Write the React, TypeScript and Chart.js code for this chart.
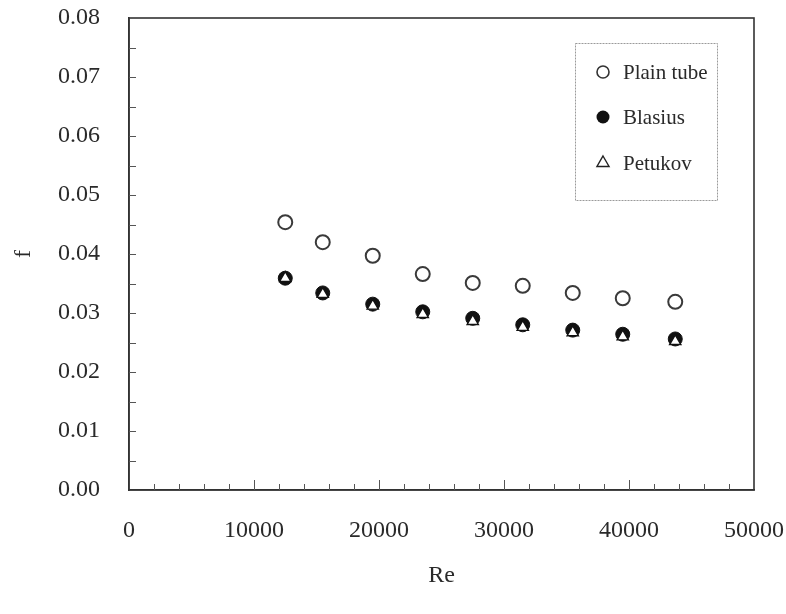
import React, { useEffect, useRef } from 'react';
import { Chart, registerables } from 'chart.js';

Chart.register(...registerables);

// Data
const reValues = [12500, 15500, 19500, 23500, 27500, 31500, 35500, 39500, 43700];
const plainTube = [0.0454, 0.0420, 0.0397, 0.0366, 0.0351, 0.0346, 0.0334, 0.0325, 0.0319];
const blasius = [0.0359, 0.0334, 0.0315, 0.0302, 0.0291, 0.0280, 0.0271, 0.0264, 0.0256];
const petukov = [0.0359, 0.0332, 0.0312, 0.0298, 0.0286, 0.0276, 0.0267, 0.0260, 0.0252];

const seriesNames = ['Plain tube', 'Blasius', 'Petukov'];
const xTickLabels = ['0', '10000', '20000', '30000', '40000', '50000'];
const yTickLabels = ['0.00', '0.01', '0.02', '0.03', '0.04', '0.05', '0.06', '0.07', '0.08'];
const xMinorStep = 2000;
const yMinorStep = 0.005;

const FONT = "'Liberation Serif', 'Times New Roman', serif";
const INK = '#2a2a2a';

const decorPlugin = {
  id: 'decor',
  afterDraw(chart: any) {
    const { ctx, chartArea: a, scales } = chart;
    const xs = scales.x;
    const ys = scales.y;
    ctx.save();
    ctx.strokeStyle = '#333';
    ctx.lineWidth = 1.6;
    ctx.strokeRect(a.left, a.top, a.right - a.left, a.bottom - a.top);

    // inner tick marks on y axis
    ctx.lineWidth = 1;
    ctx.strokeStyle = '#555';
    for (let v = yMinorStep; v < ys.max - 1e-9; v += yMinorStep) {
      const y = Math.round(ys.getPixelForValue(v)) + 0.5;
      ctx.beginPath();
      ctx.moveTo(a.left, y);
      ctx.lineTo(a.left + 7, y);
      ctx.stroke();
    }
    // inner tick marks on x axis
    for (let v = xMinorStep; v < xs.max - 1e-9; v += xMinorStep) {
      const x = Math.round(xs.getPixelForValue(v)) + 0.5;
      const major = Math.abs(v % 10000) < 1e-6;
      ctx.beginPath();
      ctx.moveTo(x, a.bottom);
      ctx.lineTo(x, a.bottom - (major ? 10 : 6));
      ctx.stroke();
    }

    // legend box
    const lx = 575, ly = 43, lw = 142, lh = 157;
    ctx.strokeStyle = '#9a9a9a';
    ctx.lineWidth = 1;
    ctx.setLineDash([2, 1]);
    ctx.strokeRect(lx + 0.5, ly + 0.5, lw, lh);
    ctx.setLineDash([]);
    const rows = [72, 117, 163];
    const sx = 603;
    ctx.font = `21px ${FONT}`;
    ctx.fillStyle = INK;
    ctx.textBaseline = 'middle';
    ctx.textAlign = 'left';
    rows.forEach((ry, i) => {
      ctx.beginPath();
      if (i === 0) {
        ctx.arc(sx, ry, 6, 0, Math.PI * 2);
        ctx.fillStyle = '#fff';
        ctx.fill();
        ctx.strokeStyle = '#333';
        ctx.lineWidth = 1.6;
        ctx.stroke();
      } else if (i === 1) {
        ctx.arc(sx, ry, 6.5, 0, Math.PI * 2);
        ctx.fillStyle = '#111';
        ctx.fill();
      } else {
        const r = 7;
        ctx.moveTo(sx, ry - r);
        ctx.lineTo(sx + r * 0.866, ry + r / 2);
        ctx.lineTo(sx - r * 0.866, ry + r / 2);
        ctx.closePath();
        ctx.strokeStyle = '#222';
        ctx.lineWidth = 1.4;
        ctx.stroke();
      }
      ctx.fillStyle = INK;
      ctx.fillText(seriesNames[i], 623, ry + 1);
    });
    ctx.restore();
  },
};

export default function App() {
  const ref = useRef<HTMLCanvasElement | null>(null);

  useEffect(() => {
    if (!ref.current) return;
    const toPts = (ys: number[]) => reValues.map((x, i) => ({ x, y: ys[i] }));
    const chart = new Chart(ref.current, {
      type: 'scatter',
      data: {
        datasets: [
          {
            label: seriesNames[0],
            data: toPts(plainTube),
            pointStyle: 'circle',
            pointRadius: 7,
            pointBackgroundColor: '#ffffff',
            pointBorderColor: '#3a3a3a',
            pointBorderWidth: 2,
            order: 2,
          },
          {
            label: seriesNames[1],
            data: toPts(blasius),
            pointStyle: 'circle',
            pointRadius: 7,
            pointBackgroundColor: '#111111',
            pointBorderColor: '#111111',
            pointBorderWidth: 1,
            order: 1,
          },
          {
            label: seriesNames[2],
            data: toPts(petukov),
            pointStyle: 'triangle',
            pointRadius: 6.5,
            pointBackgroundColor: '#ffffff',
            pointBorderColor: '#111111',
            pointBorderWidth: 1.4,
            order: 0,
          },
        ],
      },
      options: {
        responsive: false,
        animation: false,
        layout: { padding: { top: 18, right: 32, left: 0, bottom: 0 } },
        plugins: {
          legend: { display: false },
          tooltip: { enabled: false },
        },
        scales: {
          x: {
            type: 'linear',
            min: 0,
            max: 50000,
            grid: { display: false, drawTicks: false },
            border: { display: true, color: '#333', width: 1.6 },
            afterFit: (s: any) => {
              s.height = 124;
              s.paddingLeft = 0;
              s.paddingRight = 0;
            },
            afterBuildTicks: (s: any) => {
              s.ticks = xTickLabels.map((t) => ({ value: Number(t) }));
            },
            ticks: {
              padding: 26,
              color: INK,
              font: { family: FONT, size: 24 },
              callback: (_v: any, i: number) => xTickLabels[i],
              maxRotation: 0,
            },
            title: {
              display: true,
              text: 'Re',
              color: INK,
              font: { family: FONT, size: 24 },
              padding: { top: 0, bottom: 24 },
            },
          },
          y: {
            type: 'linear',
            min: 0,
            max: 0.08,
            grid: { display: false, drawTicks: false },
            border: { display: true, color: '#333', width: 1.6 },
            afterFit: (s: any) => {
              s.width = 129;
              s.paddingTop = 0;
              s.paddingBottom = 0;
            },
            afterBuildTicks: (s: any) => {
              s.ticks = yTickLabels.map((t) => ({ value: Number(t) }));
            },
            ticks: {
              padding: 29,
              color: INK,
              font: { family: FONT, size: 24 },
              callback: (_v: any, i: number) => yTickLabels[i],
            },
            title: {
              display: true,
              text: 'f',
              color: INK,
              font: { family: FONT, size: 24 },
              padding: { top: 9, bottom: 0 },
            },
          },
        },
      },
      plugins: [decorPlugin],
    });
    return () => chart.destroy();
  }, []);

  return (
    <div style={{ position: 'fixed', left: 0, top: 0, width: 786, height: 614, background: '#fff' }}>
      <canvas ref={ref} width={786} height={614} style={{ display: 'block', width: 786, height: 614 }} />
    </div>
  );
}
